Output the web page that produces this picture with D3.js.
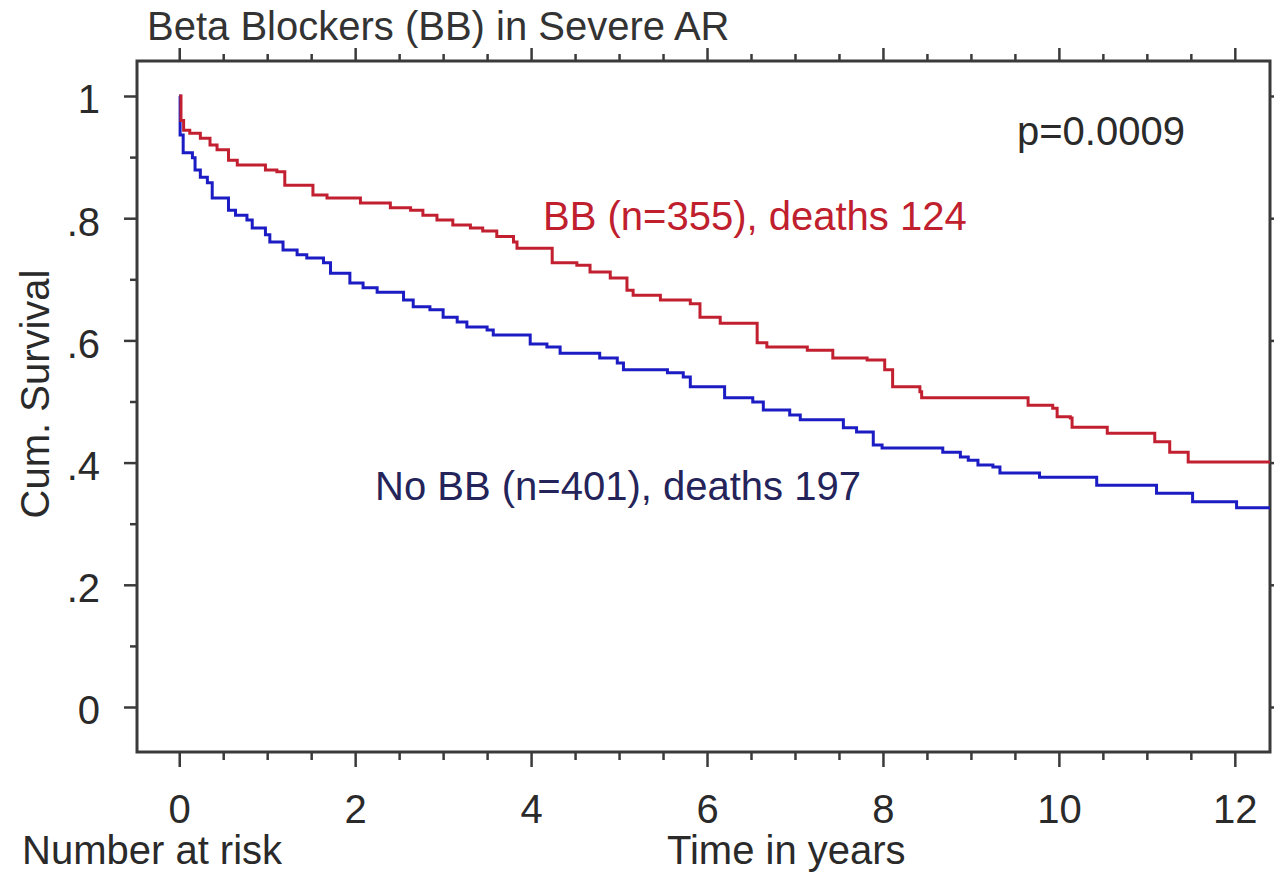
<!DOCTYPE html>
<html>
<head>
<meta charset="utf-8">
<script src="https://cdn.jsdelivr.net/npm/d3@7"></script>
<style>
  body { margin: 0; background: #fff; }
  svg text { font-family: "Liberation Sans", Arial, sans-serif; fill: #2a2a2a; }
  .axis path { display: none; }
  .axis line { stroke: #3a3a3a; stroke-width: 2.5; }
</style>
</head>
<body>
<script>
// Kaplan-Meier steps (time in years, cum. survival)
const bbTime = [0, 0.02, 0.05, 0.12, 0.24, 0.35, 0.43, 0.56, 0.66, 0.98, 1.11, 1.2, 1.52, 1.68, 2.06, 2.4, 2.63, 2.77, 2.93, 3.11, 3.31, 3.45, 3.61, 3.8, 3.84, 4.24, 4.52, 4.67, 4.9, 5.09, 5.16, 5.47, 5.81, 5.92, 6.15, 6.57, 6.68, 7.14, 7.43, 7.82, 8.02, 8.11, 8.42, 8.44, 9.65, 9.93, 9.98, 10.13, 10.15, 10.55, 11.09, 11.26, 11.47, 12.4];
const bbSurv = [1.0, 0.96, 0.944, 0.939, 0.931, 0.92, 0.912, 0.895, 0.887, 0.879, 0.876, 0.854, 0.838, 0.833, 0.825, 0.817, 0.813, 0.805, 0.797, 0.789, 0.784, 0.779, 0.77, 0.761, 0.751, 0.727, 0.723, 0.712, 0.702, 0.682, 0.674, 0.666, 0.66, 0.638, 0.628, 0.596, 0.589, 0.584, 0.571, 0.568, 0.552, 0.524, 0.516, 0.506, 0.494, 0.489, 0.475, 0.473, 0.458, 0.448, 0.434, 0.417, 0.401, 0.401];

const noBbTime = [0, 0.01, 0.045, 0.15, 0.18, 0.24, 0.32, 0.375, 0.56, 0.64, 0.77, 0.83, 0.98, 1.03, 1.18, 1.34, 1.45, 1.64, 1.72, 1.94, 2.09, 2.25, 2.55, 2.66, 2.85, 3.0, 3.16, 3.27, 3.5, 3.57, 3.99, 4.18, 4.33, 4.78, 4.98, 5.05, 5.55, 5.73, 5.81, 6.2, 6.52, 6.64, 6.94, 7.06, 7.55, 7.7, 7.89, 7.99, 8.68, 8.88, 8.97, 9.08, 9.25, 9.33, 9.78, 10.43, 11.11, 11.52, 12.02, 12.4];
const noBbSurv = [1.0, 0.936, 0.907, 0.899, 0.879, 0.867, 0.858, 0.833, 0.813, 0.805, 0.797, 0.784, 0.773, 0.761, 0.748, 0.74, 0.735, 0.727, 0.71, 0.694, 0.686, 0.679, 0.666, 0.655, 0.65, 0.638, 0.63, 0.622, 0.617, 0.609, 0.594, 0.589, 0.579, 0.571, 0.563, 0.552, 0.547, 0.54, 0.524, 0.506, 0.499, 0.486, 0.478, 0.47, 0.457, 0.45, 0.429, 0.424, 0.417, 0.409, 0.404, 0.396, 0.393, 0.383, 0.376, 0.363, 0.35, 0.336, 0.326, 0.326];

const xTicks = [0, 2, 4, 6, 8, 10, 12];
const yTicks = [0, 0.2, 0.4, 0.6, 0.8, 1];

let margin = {top: 61, left: 137, bottom: 124, right: 4};
let width = 1274 - margin.left - margin.right,
    height = 876 - margin.top - margin.bottom;

let svg = d3.select("body").append("svg")
  .attr("width", 1274)
  .attr("height", 876);

let g = svg.append("g")
  .attr("transform", `translate(${margin.left}, ${margin.top})`);

let x = d3.scaleLinear().domain([-0.48, 12.4]).range([0, width]);
let y = d3.scaleLinear().domain([0, 1]).range([646, 35]);

let minorX = d3.range(-0.5, 12.5, 0.5).filter(d => d >= -0.45 && xTicks.indexOf(d) < 0);
let minorY = d3.range(1, 11, 2).map(d => d / 10);
let yFmt = d => d === 0 ? "0" : d === 1 ? "1" : d3.format(".1f")(d).replace(/^0/, "");

// bottom axis
g.append("g").attr("class", "axis")
  .attr("transform", `translate(0, ${height})`)
  .call(d3.axisBottom(x).tickValues(xTicks).tickSize(15).tickFormat(d3.format("d")))
  .selectAll("text").attr("y", 71).attr("dy", 0).style("font-size", "40px");
g.append("g").attr("class", "axis")
  .attr("transform", `translate(0, ${height})`)
  .call(d3.axisBottom(x).tickValues(minorX).tickSize(8).tickFormat(""));

// top axis
g.append("g").attr("class", "axis")
  .call(d3.axisTop(x).tickValues(xTicks).tickSize(13).tickFormat(""));
g.append("g").attr("class", "axis")
  .call(d3.axisTop(x).tickValues(minorX).tickSize(7).tickFormat(""));

// left axis
g.append("g").attr("class", "axis")
  .call(d3.axisLeft(y).tickValues(yTicks).tickSize(13).tickFormat(yFmt))
  .selectAll("text").attr("x", -37).attr("dy", "0.42em").style("font-size", "40px");
g.append("g").attr("class", "axis")
  .call(d3.axisLeft(y).tickValues(minorY).tickSize(7).tickFormat(""));

// right axis
g.append("g").attr("class", "axis")
  .attr("transform", `translate(${width}, 0)`)
  .call(d3.axisRight(y).tickValues(yTicks).tickSize(8).tickFormat(""));

// frame
g.append("rect")
  .attr("width", width).attr("height", height)
  .attr("fill", "none").attr("stroke", "#3a3a3a").attr("stroke-width", 3);

g.append("clipPath").attr("id", "clip")
  .append("rect").attr("width", width).attr("height", height);

let km = d3.line()
  .curve(d3.curveStepAfter)
  .x(d => x(d[0]))
  .y(d => y(d[1]));

g.append("path")
  .datum(d3.zip(noBbTime, noBbSurv))
  .attr("clip-path", "url(#clip)")
  .attr("fill", "none").attr("stroke", "#1c1cc4").attr("stroke-width", 3)
  .attr("d", km);

g.append("path")
  .datum(d3.zip(bbTime, bbSurv))
  .attr("clip-path", "url(#clip)")
  .attr("fill", "none").attr("stroke", "#c22030").attr("stroke-width", 3)
  .attr("d", km);

// texts
svg.append("text").attr("x", 147).attr("y", 40).style("font-size", "40px").style("fill", "#333")
  .text("Beta Blockers (BB) in Severe AR");

svg.append("text").attr("x", 1017).attr("y", 145).style("font-size", "40px")
  .text("p=0.0009");

svg.append("text").attr("x", 543).attr("y", 230).style("font-size", "40px").style("fill", "#c0202e")
  .text("BB (n=355), deaths 124");

svg.append("text").attr("x", 375).attr("y", 500).style("font-size", "40px").style("fill", "#24245a")
  .text("No BB (n=401), deaths 197");

svg.append("text")
  .attr("transform", "translate(49, 394) rotate(-90)")
  .attr("text-anchor", "middle").style("font-size", "40px")
  .text("Cum. Survival");

svg.append("text").attr("x", 22).attr("y", 864).style("font-size", "40px")
  .text("Number at risk");

svg.append("text").attr("x", 667).attr("y", 864).style("font-size", "40px")
  .text("Time in years");
</script>
</body>
</html>
